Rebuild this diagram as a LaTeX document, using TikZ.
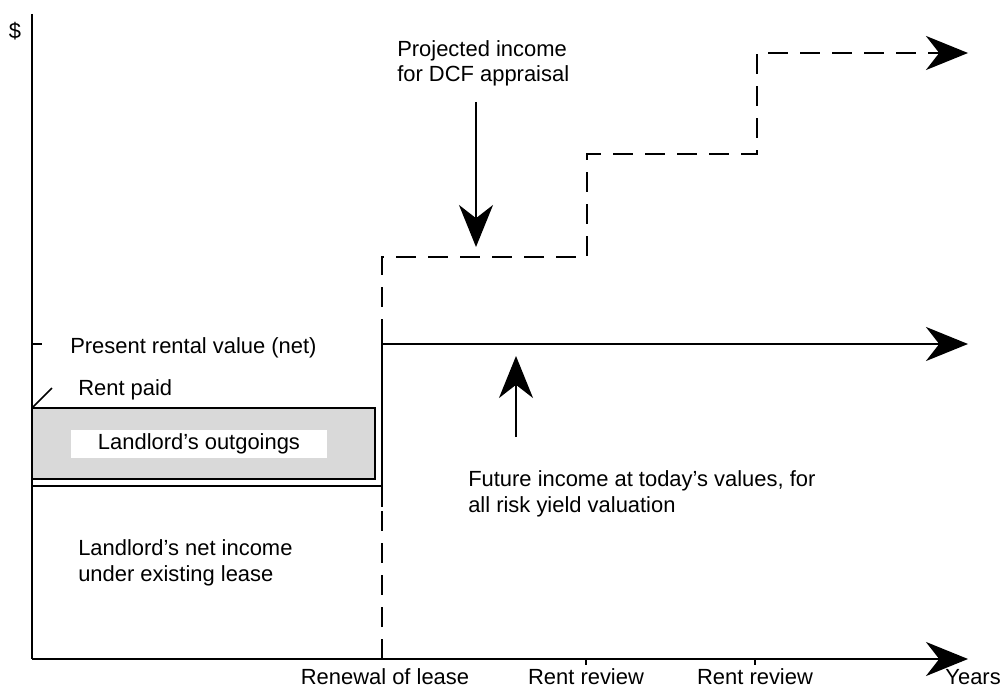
\documentclass[tikz,border=0pt]{standalone}
\usepackage{fontspec}
\setmainfont{Liberation Sans}
\usetikzlibrary{arrows.meta}
\definecolor{outgo}{gray}{0.85}

\begin{document}
\begin{tikzpicture}[x=0.025cm, y=-0.025cm,
    lbl/.style={font=\fontsize{15.6}{17.8}\selectfont, inner sep=0pt, align=left},
    axis/.style={line width=1.9pt},
    bigtip/.style={-{Stealth[length=1.05cm, width=0.85cm, inset=0.33cm]}},
    stepline/.style={line width=1.9pt, dash pattern=on 0.5cm off 0.3cm},
    pointer/.style={line width=1.1pt, bigtip}
]
    \useasboundingbox (0,0) rectangle (1003,689);

    % Axes
    \coordinate (origin) at (32,659);
    \coordinate (ytop) at (32,14);
    \coordinate (xend) at (968,659);
    \draw[axis] (ytop) -- (origin);
    \draw[axis, bigtip] (origin) -- (xend);
    \node[lbl] (dollar) at (15,31) {\$};
    \node[lbl, anchor=base east] (years) at (1001,684) {Years};

    % Time points
    \coordinate (renew) at (382,659);
    \coordinate (rev1) at (586,659);
    \coordinate (rev2) at (755,659);
    \draw[axis] (rev1) -- ++(0,6);
    \draw[axis] (rev2) -- ++(0,6);
    \node[lbl, anchor=base] (renewlbl) at (385,684) {Renewal of lease};
    \node[lbl, anchor=base] (rev1lbl) at (586,684) {Rent review};
    \node[lbl, anchor=base] (rev2lbl) at (755,684) {Rent review};

    % Existing lease
    \coordinate (prv) at (32,344);
    \coordinate (prvtick) at (42,344);
    \draw[axis] (prv) -- (prvtick);
    \node[lbl, anchor=base west] (prvlbl) at (70,353) {Present rental value (net)};
    \node[lbl, anchor=base west] (paid) at (78,395) {Rent paid};
    \coordinate (paidfoot) at (32,408);
    \coordinate (paidtop) at (52,388);
    \draw[line width=1.2pt] (paidfoot) -- (paidtop);
    \draw[line width=1.6pt, fill=outgo] (paidfoot) rectangle (375,479);
    \node[lbl, fill=white, minimum width=6.375cm, minimum height=0.7cm] (outgoings) at (199,444) {Landlord's outgoings};
    \coordinate (netleft) at (32,486);
    \coordinate (netright) at (382,486);
    \draw[axis] (netleft) -- (netright);
    \node[lbl, anchor=base west] (netinc) at (78,581) {Landlord's net income\\under existing lease};

    % Projected income for DCF
    \coordinate (step1) at (587,257);
    \coordinate (step2) at (757,154);
    \coordinate (step3) at (968,53);
    \draw[stepline, bigtip] (renew) |- (step1) |- (step2) |- (step3);

    % Income at today's values
    \coordinate (renewtop) at (382,322);
    \coordinate (renewbot) at (382,507);
    \coordinate (arystart) at (382,344);
    \coordinate (aryend) at (968,344);
    \draw[axis] (renewtop) -- (renewbot);
    \draw[axis, bigtip] (arystart) -- (aryend);

    % Pointers
    \node[lbl, anchor=base west] (dcf) at (397,82) {Projected income\\for DCF appraisal};
    \coordinate (dcffrom) at (476,102);
    \coordinate (dcfto) at (476,247);
    \draw[pointer] (dcffrom) -- (dcfto);
    \node[lbl, anchor=base west] (ary) at (468,512) {Future income at today's values, for\\all risk yield valuation};
    \coordinate (aryfrom) at (516,437);
    \coordinate (aryto) at (516,356);
    \draw[pointer] (aryfrom) -- (aryto);
\end{tikzpicture}
\end{document}
